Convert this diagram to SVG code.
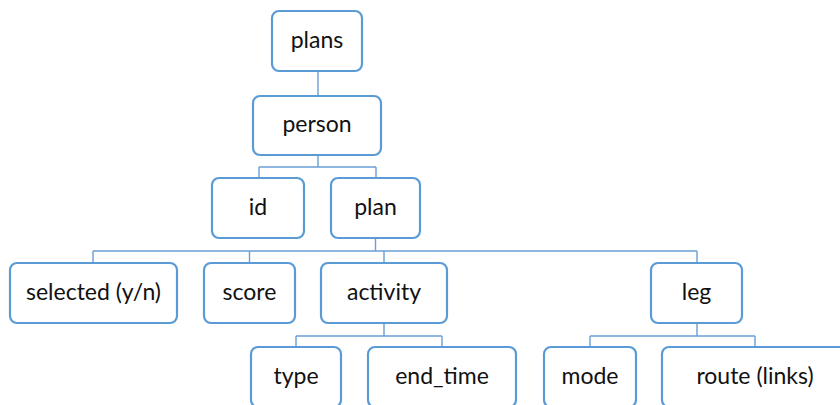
<svg xmlns="http://www.w3.org/2000/svg" width="840" height="405" viewBox="0 0 840 405">
  <style>
    .box { fill: #ffffff; stroke: #5b9bd5; stroke-width: 2.2; }
    .link { fill: none; stroke: #6a9fd6; stroke-width: 1.4; }
    .label { font-family: "Lato", "Liberation Sans", sans-serif; font-size: 23px; fill: #111111; text-anchor: middle; }
  </style>
  <rect width="840" height="405" fill="#ffffff"/>

  <!-- tree connectors -->
  <g id="connectors">
    <path class="link" d="M318 71 V96"/>
    <path class="link" d="M318 155 V167 M259 167 H376 M259 167 V178 M376 167 V178"/>
    <path class="link" d="M375.5 238 V251 M93 251 H697 M93 251 V263 M249.5 251 V263 M384 251 V263 M697 251 V263"/>
    <path class="link" d="M384 323 V336 M296 336 H442 M296 336 V347 M442 336 V347"/>
    <path class="link" d="M697 323 V336 M590 336 H755 M590 336 V347 M755 336 V347"/>
  </g>

  <g id="plans">
    <rect class="box" x="272" y="11" width="90" height="60" rx="7"/>
    <text class="label" x="317" y="48">plans</text>
  </g>
  <g id="person">
    <rect class="box" x="253" y="96" width="128" height="59" rx="7"/>
    <text class="label" x="317" y="132">person</text>
  </g>
  <g id="id">
    <rect class="box" x="212" y="178" width="92" height="60" rx="7"/>
    <text class="label" x="258" y="215">id</text>
  </g>
  <g id="plan">
    <rect class="box" x="331" y="178" width="89" height="60" rx="7"/>
    <text class="label" x="375.5" y="215">plan</text>
  </g>
  <g id="selected">
    <rect class="box" x="10" y="263" width="167" height="60" rx="7"/>
    <text class="label" x="93.5" y="300">selected (y/n)</text>
  </g>
  <g id="score">
    <rect class="box" x="204" y="263" width="91" height="60" rx="7"/>
    <text class="label" x="249.5" y="300">score</text>
  </g>
  <g id="activity">
    <rect class="box" x="321" y="263" width="126" height="60" rx="7"/>
    <text class="label" x="384" y="300">activity</text>
  </g>
  <g id="leg">
    <rect class="box" x="651" y="263" width="91" height="60" rx="7"/>
    <text class="label" x="696.5" y="300">leg</text>
  </g>
  <g id="type">
    <rect class="box" x="251" y="347" width="90" height="60" rx="7"/>
    <text class="label" x="296" y="384">type</text>
  </g>
  <g id="end_time">
    <rect class="box" x="368" y="347" width="148" height="60" rx="7"/>
    <text class="label" x="442" y="384">end_time</text>
  </g>
  <g id="mode">
    <rect class="box" x="544" y="347" width="92" height="60" rx="7"/>
    <text class="label" x="590" y="384">mode</text>
  </g>
  <g id="route">
    <rect class="box" x="662" y="347" width="186" height="60" rx="7"/>
    <text class="label" x="755" y="384">route (links)</text>
  </g>
</svg>
